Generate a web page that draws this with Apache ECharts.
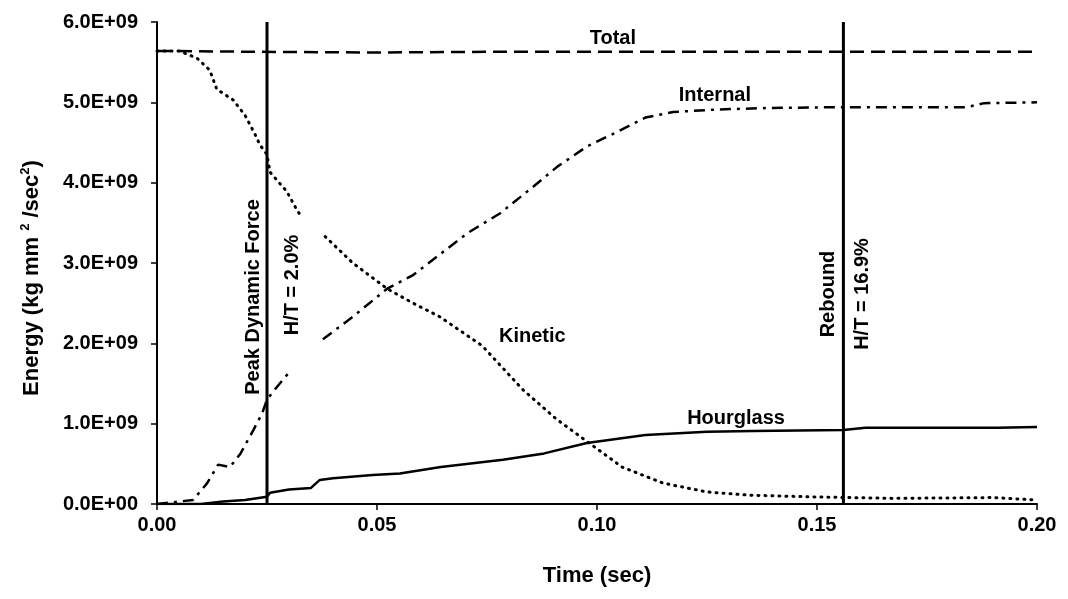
<!DOCTYPE html>
<html>
<head>
<meta charset="utf-8">
<script src="https://cdn.jsdelivr.net/npm/echarts@6/dist/echarts.min.js"></script>
<style>
html,body{margin:0;padding:0;background:#fff;}
#c{width:1068px;height:599px;}
</style>
</head>
<body>
<div id="c"></div>
<script>
// ---- data (time in sec, energy in kg mm^2/sec^2) ----
const xTicks = [0, 0.05, 0.10, 0.15, 0.20];
const yTicks = [0, 1e9, 2e9, 3e9, 4e9, 5e9, 6e9];

const totalX = [0, 0.02, 0.05, 0.08, 0.10, 0.13, 0.16, 0.20];
const totalY = [5.64e9, 5.63e9, 5.62e9, 5.63e9, 5.63e9, 5.63e9, 5.63e9, 5.63e9];

const kineticX = [0, 0.005, 0.0091, 0.012, 0.0136, 0.0148, 0.0173, 0.020, 0.0223, 0.0234, 0.025, 0.0257, 0.0295, 0.0318, 0.033,
                  null,
                  0.0382, 0.0445, 0.0523, 0.0582, 0.0643, 0.0739, 0.0832, 0.0907, 0.0982, 0.1057, 0.115, 0.125, 0.1345, 0.148, 0.167, 0.19, 0.20];
const kineticY = [5.64e9, 5.64e9, 5.55e9, 5.40e9, 5.16e9, 5.12e9, 5.03e9, 4.84e9, 4.60e9, 4.47e9, 4.35e9, 4.13e9, 3.89e9, 3.66e9, 3.56e9,
                  null,
                  3.33e9, 3.00e9, 2.68e9, 2.50e9, 2.33e9, 1.97e9, 1.42e9, 1.06e9, 0.76e9, 0.46e9, 0.26e9, 0.15e9, 0.11e9, 0.09e9, 0.07e9, 0.08e9, 0.05e9];

const internalX = [0, 0.0082, 0.0114, 0.0139, 0.0166, 0.019, 0.0219, 0.0239, 0.025, 0.0273, 0.0302,
                   null,
                   0.0377, 0.0445, 0.0523, 0.0582, 0.0627, 0.0705, 0.078, 0.0855, 0.091, 0.0977, 0.1045, 0.111, 0.1173, 0.127, 0.139, 0.156, 0.184, 0.188, 0.20];
const internalY = [0, 0.05e9, 0.26e9, 0.49e9, 0.46e9, 0.63e9, 0.92e9, 1.13e9, 1.30e9, 1.46e9, 1.65e9,
                   null,
                   2.05e9, 2.33e9, 2.68e9, 2.85e9, 3.04e9, 3.37e9, 3.62e9, 3.95e9, 4.20e9, 4.45e9, 4.63e9, 4.81e9, 4.88e9, 4.91e9, 4.93e9, 4.94e9, 4.94e9, 4.99e9, 5.00e9];

const hourglassX = [0, 0.01, 0.015, 0.02, 0.025, 0.0257, 0.03, 0.035, 0.037, 0.04, 0.049, 0.0552, 0.0645, 0.0786, 0.088, 0.0977, 0.111, 0.125, 0.1355, 0.156, 0.161, 0.191, 0.20];
const hourglassY = [0, 0, 0.03e9, 0.05e9, 0.09e9, 0.14e9, 0.18e9, 0.20e9, 0.30e9, 0.32e9, 0.36e9, 0.38e9, 0.46e9, 0.55e9, 0.63e9, 0.76e9, 0.86e9, 0.90e9, 0.91e9, 0.92e9, 0.95e9, 0.95e9, 0.96e9];

const eventTimes = [0.025, 0.156];
const eventNames = ['Peak Dynamic Force', 'Rebound'];
const eventRatios = ['H/T = 2.0%', 'H/T = 16.9%'];

const curveNames = ['Total', 'Internal', 'Kinetic', 'Hourglass'];

// ---- helpers ----
function pairs(xs, ys) { return xs.map((x, i) => (x === null ? [null, null] : [x, ys[i]])); }
const FONT = '"Liberation Sans", Arial, sans-serif';
const txt = { fontFamily: FONT, fontWeight: 'bold', color: '#000' };

const chart = echarts.init(document.getElementById('c'), null, { renderer: 'canvas' });

const baseLine = { symbol: 'none', showSymbol: false, connectNulls: false, animation: false, silent: true };

const series = [
  Object.assign({ type: 'line', name: curveNames[0], data: pairs(totalX, totalY), lineStyle: { color: '#000', width: 2.5, type: [14, 7] } }, baseLine),
  Object.assign({ type: 'line', name: curveNames[1], data: pairs(internalX, internalY), lineStyle: { color: '#000', width: 2.5, type: [11, 6, 3, 6] } }, baseLine),
  Object.assign({ type: 'line', name: curveNames[2], data: pairs(kineticX, kineticY), lineStyle: { color: '#000', width: 3, type: [1, 6], cap: 'round' } }, baseLine),
  Object.assign({ type: 'line', name: curveNames[3], data: pairs(hourglassX, hourglassY), lineStyle: { color: '#000', width: 2.5 } }, baseLine)
];
eventTimes.forEach((t, i) => {
  series.push(Object.assign({ type: 'line', name: eventNames[i], data: [[t, yTicks[0]], [t, yTicks[yTicks.length - 1]]],
    lineStyle: { color: '#000', width: 3 } }, baseLine));
});

chart.setOption({
  backgroundColor: '#fff',
  animation: false,
  grid: { left: 157, right: 31, top: 22, bottom: 95 },
  xAxis: {
    type: 'value', min: xTicks[0], max: xTicks[xTicks.length - 1], interval: 0.05,
    name: 'Time (sec)', nameLocation: 'middle', nameGap: 61,
    nameTextStyle: Object.assign({ fontSize: 22 }, txt),
    axisLine: { lineStyle: { color: '#000', width: 2 } },
    axisTick: { show: true, length: 6, lineStyle: { color: '#000', width: 1.5 } },
    axisLabel: Object.assign({ fontSize: 20, margin: 11, formatter: v => v.toFixed(2) }, txt),
    splitLine: { show: false }
  },
  yAxis: {
    type: 'value', min: yTicks[0], max: yTicks[yTicks.length - 1], interval: 1e9,
    axisLine: { show: true, lineStyle: { color: '#000', width: 2 } },
    axisTick: { show: true, length: 6, lineStyle: { color: '#000', width: 1.5 } },
    axisLabel: Object.assign({ fontSize: 20, margin: 19, formatter: v => (v / 1e9).toFixed(1) + (v === 0 ? 'E+00' : 'E+09') }, txt),
    splitLine: { show: false }
  },
  series: series
});

// ---- annotations placed in data coordinates ----
const curveLabelAt = [[0.1036, 5.80e9], [0.1268, 5.08e9], [0.0853, 2.08e9], [0.1316, 1.07e9]];
const eventLabelOffsets = [[-14, 297, 25, 285], [-15, 294, 19, 294]]; // px offset from line, px y centre
const graphics = [];
curveNames.forEach((n, i) => {
  const p = chart.convertToPixel({ gridIndex: 0 }, curveLabelAt[i]);
  graphics.push({ type: 'text', x: p[0], y: p[1], silent: true,
    style: { text: n, font: 'bold 20px ' + FONT, fill: '#000', textAlign: 'center', textVerticalAlign: 'middle' } });
});
eventTimes.forEach((t, i) => {
  const px = chart.convertToPixel({ gridIndex: 0 }, [t, 0])[0];
  const o = eventLabelOffsets[i];
  graphics.push({ type: 'text', x: px + o[0], y: o[1], rotation: Math.PI / 2, silent: true,
    style: { text: eventNames[i], font: 'bold 20px ' + FONT, fill: '#000', textAlign: 'center', textVerticalAlign: 'middle' } });
  graphics.push({ type: 'text', x: px + o[2], y: o[3], rotation: Math.PI / 2, silent: true,
    style: { text: eventRatios[i], font: 'bold 20px ' + FONT, fill: '#000', textAlign: 'center', textVerticalAlign: 'middle' } });
});
// y-axis title with superscripts
graphics.push({ type: 'text', x: 32, y: 278, rotation: Math.PI / 2, silent: true,
  style: { text: 'Energy (kg mm {s|2} /sec{s|2})', font: 'bold 22px ' + FONT, fill: '#000',
    textAlign: 'center', textVerticalAlign: 'middle',
    rich: { s: { fontSize: 13, fontWeight: 'bold', fontFamily: FONT, verticalAlign: 'top', lineHeight: 26 } } } });
chart.setOption({ graphic: graphics });
</script>
</body>
</html>
